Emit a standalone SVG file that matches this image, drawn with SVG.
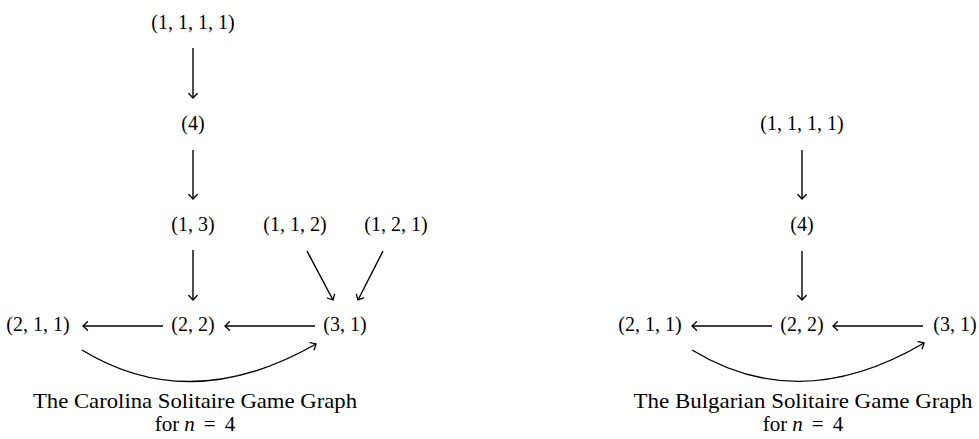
<svg xmlns="http://www.w3.org/2000/svg" width="979" height="439" viewBox="0 0 979 439">
<style>
text{font-family:"Liberation Serif","Times New Roman",serif;font-size:20px;fill:#000;text-anchor:middle}
.cap{font-size:21px}
.e{fill:none;stroke:#000;stroke-width:1.4;marker-end:url(#ah)}
</style>
<defs>
<marker id="ah" viewBox="-6 -5 8 10" markerWidth="8" markerHeight="10" refX="0" refY="0" orient="auto" markerUnits="userSpaceOnUse">
<path d="M-4.5,-4.2 Q-1,-1 0,0 Q-1,1 -4.5,4.2" fill="none" stroke="#000" stroke-width="1.3" stroke-linecap="round"/>
</marker>
</defs>
<rect width="979" height="439" fill="#fff"/>
<g id="left-nodes">
<g id="L1111"><text x="193" y="29">(1, 1, 1, 1)</text></g>
<g id="L4"><text x="193" y="130">(4)</text></g>
<g id="L13"><text x="193" y="231">(1, 3)</text></g>
<g id="L112"><text x="295" y="231">(1, 1, 2)</text></g>
<g id="L121"><text x="396" y="231">(1, 2, 1)</text></g>
<g id="L211"><text x="38" y="331">(2, 1, 1)</text></g>
<g id="L22"><text x="193" y="331">(2, 2)</text></g>
<g id="L31"><text x="345" y="331">(3, 1)</text></g>
<g id="Lcap"><text class="cap" x="195" y="408" textLength="324" lengthAdjust="spacingAndGlyphs">The Carolina Solitaire Game Graph</text><text class="cap" x="195" y="431">for<tspan dx="5" font-style="italic">n</tspan><tspan dx="9">=</tspan><tspan dx="9">4</tspan></text></g>
</g>
<g id="right-nodes">
<g id="R1111"><text x="802" y="130">(1, 1, 1, 1)</text></g>
<g id="R4"><text x="802" y="231">(4)</text></g>
<g id="R211"><text x="650" y="331">(2, 1, 1)</text></g>
<g id="R22"><text x="802" y="331">(2, 2)</text></g>
<g id="R31"><text x="955" y="331">(3, 1)</text></g>
<g id="Rcap"><text class="cap" x="803" y="408" textLength="339" lengthAdjust="spacingAndGlyphs">The Bulgarian Solitaire Game Graph</text><text class="cap" x="803" y="431">for<tspan dx="5" font-style="italic">n</tspan><tspan dx="9">=</tspan><tspan dx="9">4</tspan></text></g>
</g>
<g id="connectors">
<path class="e" d="M193,48 L193,98"/>
<path class="e" d="M193,150 L193,199"/>
<path class="e" d="M193,250 L193,300"/>
<path class="e" d="M307,251 L333,300"/>
<path class="e" d="M383,251 L358,300"/>
<path class="e" d="M163,326 L83,326"/>
<path class="e" d="M315,326 L225,326"/>
<path class="e" d="M82,350 Q190,416 316,344"/>
<path class="e" d="M802,150 L802,199"/>
<path class="e" d="M802,251 L802,300"/>
<path class="e" d="M772,326 L692,326"/>
<path class="e" d="M923,326 L833,326"/>
<path class="e" d="M692,350 Q800,416 924,343"/>
</g>
</svg>
